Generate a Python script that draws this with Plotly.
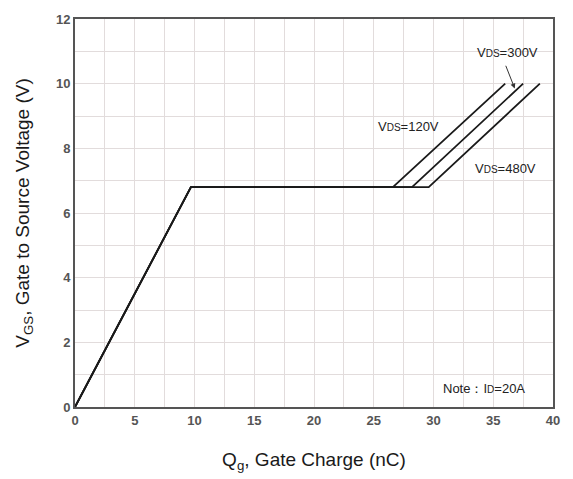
import plotly.graph_objects as go

# Data
qg_120 = [0, 9.7, 26.6, 36.0]
vgs_120 = [0, 6.8, 6.8, 10.0]
qg_300 = [0, 9.7, 28.2, 37.5]
vgs_300 = [0, 6.8, 6.8, 10.0]
qg_480 = [0, 9.7, 29.6, 38.9]
vgs_480 = [0, 6.8, 6.8, 10.0]

x_ticks = [0, 5, 10, 15, 20, 25, 30, 35, 40]
y_ticks = [0, 2, 4, 6, 8, 10, 12]

fig = go.Figure()
for xs, ys in [(qg_480, vgs_480), (qg_300, vgs_300), (qg_120, vgs_120)]:
    fig.add_trace(go.Scatter(x=xs, y=ys, mode="lines",
                             line=dict(color="#1a1a1a", width=1.8),
                             showlegend=False, hoverinfo="skip"))

tickfont = dict(family="Liberation Sans, Arial", size=13, color="#555555", weight="bold")
title_font = dict(family="Liberation Sans, Arial", size=19, color="#1a1a1a")
fig.update_xaxes(range=[0, 40], tickvals=x_ticks, ticktext=[str(v) for v in x_ticks],
                 showgrid=True, gridcolor="#e2dcdc", gridwidth=1,
                 minor=dict(dtick=2.5, showgrid=True, gridcolor="#e2dcdc", gridwidth=1),
                 showline=True, linecolor="#555555", linewidth=2, mirror=True,
                 zeroline=False, ticks="", tickfont=tickfont,
                 title=dict(text="Q<sub>g</sub>, Gate Charge (nC)", font=title_font,
                            standoff=26))
fig.update_yaxes(range=[0, 12], tickvals=y_ticks, ticktext=[str(v) for v in y_ticks],
                 showgrid=True, gridcolor="#e2dcdc", gridwidth=1,
                 minor=dict(dtick=1, showgrid=True, gridcolor="#e2dcdc", gridwidth=1),
                 showline=True, linecolor="#555555", linewidth=2, mirror=True,
                 zeroline=False, ticks="", tickfont=tickfont,
                 title=dict(text="V<sub>GS</sub>, Gate to Source Voltage (V)", font=title_font,
                            standoff=21))

lab_font = dict(family="Liberation Sans, Arial", size=13, color="#222222")
def vds(v):
    return "V<span style='font-size:10px'>DS</span>=" + v

fig.add_annotation(x=36.2, y=10.95, text=vds("300V"), showarrow=False, font=lab_font,
                   xref="x", yref="y")
fig.add_annotation(x=36.8, y=9.85, ax=36.0, ay=10.6, axref="x", ayref="y",
                   text="", showarrow=True, arrowhead=2, arrowsize=1, arrowwidth=1,
                   arrowcolor="#333333", xref="x", yref="y")
fig.add_annotation(x=27.9, y=8.67, text=vds("120V"), showarrow=False, font=lab_font,
                   xref="x", yref="y")
fig.add_annotation(x=36.0, y=7.39, text=vds("480V"), showarrow=False, font=lab_font,
                   xref="x", yref="y")
fig.add_annotation(x=34.2, y=0.58, text="Note：I<span style='font-size:10px'>D</span>=20A",
                   showarrow=False, font=lab_font, xref="x", yref="y")

fig.update_layout(width=573, height=479, margin=dict(l=75, r=20, t=12, b=65),
                  plot_bgcolor="white", paper_bgcolor="white")
fig.write_html("out.html", config={"displayModeBar": False},
               post_script="document.body.style.margin='0';document.body.style.overflow='hidden';")
